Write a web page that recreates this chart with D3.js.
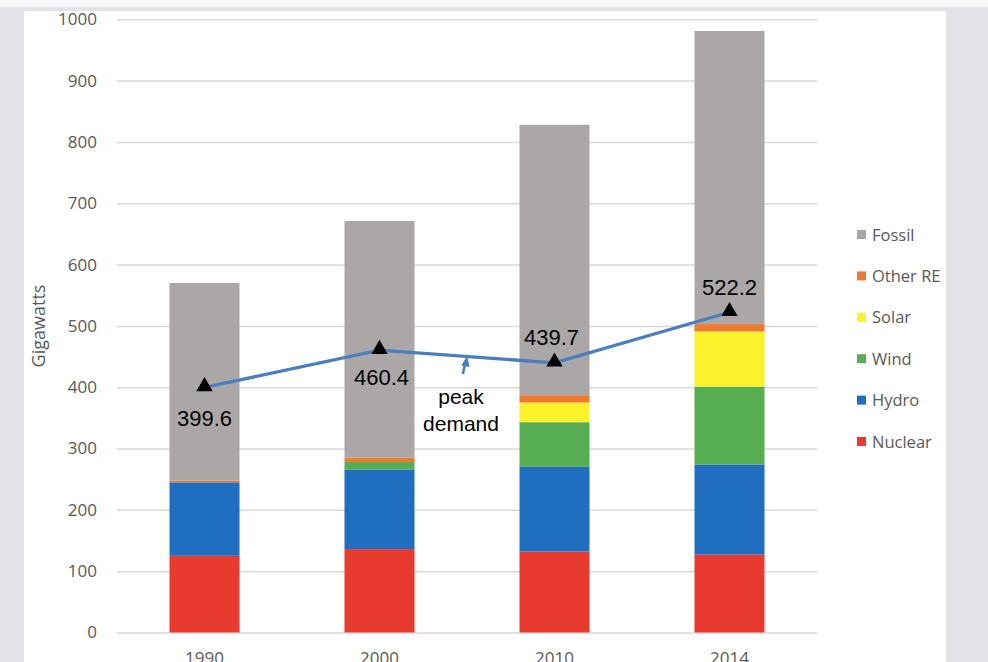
<!DOCTYPE html>
<html>
<head>
<meta charset="utf-8">
<script src="https://cdn.jsdelivr.net/npm/d3@7"></script>
<style>
  html, body { margin: 0; padding: 0; background: #e3e4ea; }
  svg { display: block; }
</style>
</head>
<body>
<svg id="chart" width="988" height="662"></svg>
<script>
// Installed generating capacity by source (GW) and peak demand
const years = ["1990", "2000", "2010", "2014"];
const sources = ["Nuclear", "Hydro", "Wind", "Solar", "Other RE", "Fossil"];
const nuclear = [125, 136, 132, 127];
const hydro   = [120, 130, 138, 147];
const wind    = [0, 12, 73, 127];
const solar   = [0, 0, 32, 90];
const otherRE = [3, 7, 12, 12];
const fossil  = [322, 386, 441, 478];
const peakDemand = [399.6, 460.4, 439.7, 522.2];
const yTicks = [0, 100, 200, 300, 400, 500, 600, 700, 800, 900, 1000];

const colors = {
  "Nuclear": "#e83a2f",
  "Hydro": "#1f6ec0",
  "Wind": "#57ae52",
  "Solar": "#fbf22c",
  "Other RE": "#ec7b30",
  "Fossil": "#aba7a7"
};

const seriesValues = {
  "Nuclear": nuclear, "Hydro": hydro, "Wind": wind,
  "Solar": solar, "Other RE": otherRE, "Fossil": fossil
};

const rows = years.map((y, i) => {
  const r = { year: y };
  sources.forEach(s => r[s] = seriesValues[s][i]);
  return r;
});

const svg = d3.select("#chart");
const grayFont = "Open Sans, sans-serif";
const blackFont = "Liberation Sans, Arial, sans-serif";

// page frame: thin top strip and white panel
svg.append("rect").attr("x", 0).attr("y", 0).attr("width", 988).attr("height", 7).attr("fill", "#f7f7f9");
svg.append("rect").attr("x", 24).attr("y", 11).attr("width", 922).attr("height", 662).attr("fill", "#ffffff");

const plot = { left: 117, right: 817, top: 19.3, bottom: 632.5 };

const x = d3.scaleBand().domain(years).range([plot.left, plot.right]).paddingInner(0.6).paddingOuter(0.3);
const y = d3.scaleLinear().domain([0, 1000]).range([plot.bottom, plot.top]);

// gridlines and value ticks
const yAxis = d3.axisLeft(y).tickValues(yTicks).tickSize(-(plot.right - plot.left)).tickPadding(20).tickFormat(d3.format("d"));
const gy = svg.append("g").attr("transform", `translate(${plot.left},0)`).call(yAxis);
gy.select(".domain").remove();
gy.selectAll(".tick line").attr("stroke", "#d9d9d9").attr("stroke-width", 1.5);
gy.selectAll(".tick text").attr("fill", "#595959").attr("font-family", grayFont).attr("font-size", 17);

// stacked bars
const stack = d3.stack().keys(sources)(rows);
svg.append("g").selectAll("g").data(stack).join("g")
  .attr("fill", d => colors[d.key])
  .selectAll("rect").data(d => d).join("rect")
  .attr("x", d => x(d.data.year))
  .attr("width", x.bandwidth())
  .attr("y", d => y(d[1]))
  .attr("height", d => Math.max(0, y(d[0]) - y(d[1])));

// category labels
const xAxis = d3.axisBottom(x).tickSize(0).tickPadding(19);
const gx = svg.append("g").attr("transform", `translate(0,${plot.bottom})`).call(xAxis);
gx.select(".domain").remove();
gx.selectAll(".tick text").attr("fill", "#595959").attr("font-family", grayFont).attr("font-size", 17);

// y axis title
svg.append("text")
  .attr("transform", "translate(45,326) rotate(-90)")
  .attr("text-anchor", "middle")
  .attr("fill", "#595959")
  .attr("font-family", grayFont)
  .attr("font-size", 18)
  .text("Gigawatts");

// peak demand line
const cx = d => x(d) + x.bandwidth() / 2;
const line = d3.line().x((d, i) => cx(years[i])).y(d => y(d));
svg.append("path").datum(peakDemand)
  .attr("d", line)
  .attr("fill", "none")
  .attr("stroke", "#4a7ebf")
  .attr("stroke-width", 3.3);

svg.append("g").selectAll("path").data(peakDemand).join("path")
  .attr("d", d3.symbol().type(d3.symbolTriangle).size(115))
  .attr("transform", (d, i) => `translate(${cx(years[i])},${y(d) - 1})`)
  .attr("fill", "#000000");

// value labels
const labelOffsets = [
  { dx: 0, dy: 39 },
  { dx: 2, dy: 35 },
  { dx: -3, dy: -18 },
  { dx: 0, dy: -17 }
];
svg.append("g").selectAll("text").data(peakDemand).join("text")
  .attr("x", (d, i) => cx(years[i]) + labelOffsets[i].dx)
  .attr("y", (d, i) => y(d) + labelOffsets[i].dy)
  .attr("text-anchor", "middle")
  .attr("font-family", blackFont)
  .attr("font-size", 22)
  .attr("fill", "#000000")
  .text(d => d3.format(".1f")(d));

// "peak demand" annotation with arrow
const ann = svg.append("g");
ann.append("text")
  .attr("x", 461).attr("y", 404)
  .attr("text-anchor", "middle")
  .attr("font-family", blackFont)
  .attr("font-size", 21).attr("fill", "#000")
  .text("peak");
ann.append("text")
  .attr("x", 461).attr("y", 431)
  .attr("text-anchor", "middle")
  .attr("font-family", blackFont)
  .attr("font-size", 21).attr("fill", "#000")
  .text("demand");
ann.append("line")
  .attr("x1", 462.8).attr("y1", 374).attr("x2", 465.3).attr("y2", 363)
  .attr("stroke", "#4a7ebf").attr("stroke-width", 2.6);
ann.append("path")
  .attr("d", "M467.2,356 L461.3,365.5 L469.6,367 Z")
  .attr("fill", "#4a7ebf");

// legend (top of stack first)
const legendItems = sources.slice().reverse();
const lg = svg.append("g").attr("transform", "translate(857,235)");
const li = lg.selectAll("g").data(legendItems).join("g")
  .attr("transform", (d, i) => `translate(0,${i * 41.4})`);
li.append("rect").attr("x", 0).attr("y", -5).attr("width", 9).attr("height", 9).attr("fill", d => colors[d]);
li.append("text").attr("x", 15).attr("y", 5.5)
  .attr("fill", "#595959")
  .attr("font-family", grayFont)
  .attr("font-size", 16.5)
  .text(d => d);
</script>
</body>
</html>
